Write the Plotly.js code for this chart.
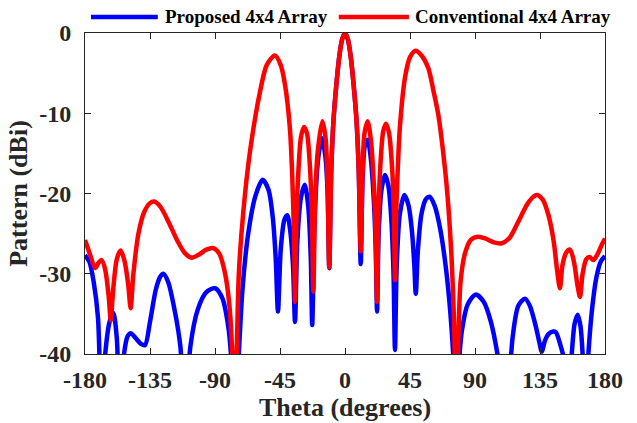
<!DOCTYPE html>
<html>
<head>
<meta charset="utf-8">
<script src="https://cdn.plot.ly/plotly-3.0.1.min.js"></script>
<style>html,body{margin:0;padding:0;background:#fff;}#chart{width:637px;height:423px;}</style>
</head>
<body>
<div id="chart"></div>
<script>
// Conventional 4x4 Array (red)
const convTheta = [-180,-176.5,-173,-170.5,-168.5,-166,-163.5,-162.2,-160.5,-158,-155.3,-152.5,-150,-148.4,-146.5,-143,-139,-135,-132.2,-128,-122,-116,-111,-106.1,-101,-96,-91.2,-87,-83,-80,-77.5,-76.5,-75,-73.5,-70.4,-65.8,-58.8,-54.2,-48.5,-44.5,-41.5,-38.1,-36.5,-35.2,-34.6,-33.7,-32.2,-30.5,-28.4,-26.3,-24.5,-23,-21.9,-20.7,-19,-15.7,-13.5,-12.2,-10.9,-9.5,-8,-6,-4,-2,0,2,4,6,8,9.5,10.9,12.2,13.5,15.7,18,20,21.2,22.2,23.2,25,26.5,28.4,30.5,32.5,33.8,34.6,35.5,37,38.1,41.5,45,49,53,57.7,61,64.6,69.2,71.5,73.8,75.5,77,78.5,80,83,87,92,97,103,108.5,114,120,127,132.7,137,141,144.5,146.8,148.8,150.5,153,155.8,158.5,161,162.7,164.5,167,169.2,172,175,178,180];
const convDb = [-25.8,-27.6,-29.3,-28.6,-28.3,-29.5,-33,-35.8,-32,-28.2,-27.1,-28.5,-31.5,-34.3,-30,-25,-22.3,-21.2,-21.0,-21.6,-23.6,-25.9,-27.4,-28.0,-27.6,-27.0,-26.8,-27.5,-30,-34,-42,-48,-40,-30,-22.3,-14.8,-7.3,-4.0,-2.8,-4.0,-6.5,-12,-18,-26,-33.5,-24,-17,-13,-11.7,-12.5,-16,-22,-32.2,-21,-15,-11.0,-13,-18,-29.2,-17,-11,-6.5,-3,-0.8,0,-0.8,-3,-6.5,-11,-17,-27.2,-17,-12.5,-11.0,-13.5,-19,-25,-33.5,-22,-15,-12.2,-11.3,-12.5,-16.5,-22,-30.8,-22,-15,-11.5,-5.6,-3.0,-2.2,-2.8,-4.4,-7,-10.2,-16.9,-21.5,-28.1,-36,-48,-38,-31,-27.5,-25.8,-25.4,-25.6,-26.1,-26.2,-25.5,-23.5,-21.1,-20.2,-20.8,-22.8,-26,-29.5,-31.8,-29,-27.4,-27.0,-28.5,-31.5,-32.9,-30,-28.2,-27.9,-28.3,-27.5,-26.3,-25.6];

// Proposed 4x4 Array (blue)
const propTheta = [-180,-177,-174,-171,-168.5,-166,-163,-160.4,-158,-155.8,-153,-150.5,-148.4,-145,-141.5,-138.5,-135,-131,-128,-125.8,-122.5,-118,-114,-110.8,-107,-102,-96,-90,-85,-80.5,-77,-75.5,-73.5,-71,-67,-62,-57,-53,-50,-48,-46.4,-44.5,-42,-40,-38,-36,-34.6,-33,-30.5,-27.9,-25.5,-23.7,-22.7,-21,-18.5,-15.9,-13.5,-12,-10.9,-9.5,-8,-6,-4,-2,0,2,4,6,8,9.5,10.9,12.2,13.8,15.7,17.8,20,21.3,22.2,23.3,25.3,27.7,30,32,33.6,34.6,35.8,38,41.1,44,46.5,48,49,50.5,53,56,58.6,62,66,70,73,75.5,76.8,78.5,81,85,90.5,96,101,106,111.5,116,120,124.6,128,132,134.5,136.2,138.5,141,144,146,149,152,154.6,157,159,161.1,163,164.5,166.2,168.5,171,174,177,180];
const propDb = [-27.7,-28.5,-31,-35.5,-48,-40,-36,-34.9,-38,-48,-40,-37.8,-37.4,-38,-38.7,-38.9,-36,-32,-30.4,-30.0,-31,-34.5,-39,-48,-39,-34.5,-32.3,-31.8,-33,-37,-45,-48,-40,-32,-25,-20.3,-18.3,-19.5,-23,-28,-34.7,-27,-23.3,-22.7,-24.5,-29,-36.0,-26,-20.5,-18.9,-21.5,-28,-36.4,-23,-15.5,-13.1,-15.5,-20,-29.3,-17,-11,-6.5,-3,-0.8,0,-0.8,-3,-6.5,-11,-17,-28.8,-18,-14,-13.3,-15.5,-21,-27,-34.7,-25,-19.5,-17.7,-19,-23,-30,-39.5,-29,-22.5,-20.2,-21.5,-25,-29,-32.5,-27,-22.5,-20.7,-20.4,-21.5,-24.5,-29.5,-35,-42,-48,-42,-37,-33.8,-32.6,-33.5,-36,-40.5,-48,-38,-34,-33.1,-34,-36.5,-38.5,-39.7,-38.3,-37.5,-37.2,-37.3,-38.8,-41,-48,-40,-36.2,-35.1,-36.5,-40,-48,-40,-34.5,-30.5,-28.5,-27.8];

const seriesNames = ['Proposed 4x4 Array', 'Conventional 4x4 Array'];
const seriesColors = ['#0000FF', '#FF0000'];
const xTicks = [-180,-135,-90,-45,0,45,90,135,180];
const yTicks = [-40,-30,-20,-10,0];

const fontFam = 'Liberation Serif, Times New Roman, serif';
const axisColor = '#262626';

const traces = [
  {x: propTheta, y: propDb, name: seriesNames[0], mode: 'lines',
   line: {color: seriesColors[0], width: 4.5, shape: 'spline', smoothing: 0.8}, showlegend: false},
  {x: convTheta, y: convDb, name: seriesNames[1], mode: 'lines',
   line: {color: seriesColors[1], width: 4.5, shape: 'spline', smoothing: 0.8}, showlegend: false}
];

// manual legend (long line samples)
const legY = 1.05;
const legItems = [
  {x0: 0.0115, x1: 0.140, tx: 0.150},
  {x0: 0.488, x1: 0.623, tx: 0.631}
];
const shapes = legItems.map((it, i) => ({type: 'line', xref: 'paper', yref: 'paper',
  x0: it.x0, x1: it.x1, y0: legY, y1: legY, line: {color: seriesColors[i], width: 4.5}}));
const annotations = legItems.map((it, i) => ({xref: 'paper', yref: 'paper', x: it.tx, y: legY,
  xanchor: 'left', yanchor: 'middle', showarrow: false, text: seriesNames[i],
  font: {family: fontFam, size: 19, color: '#000', weight: 'bold'}}));

const layout = {
  width: 637, height: 423,
  margin: {l: 85, r: 32, t: 33, b: 69},
  paper_bgcolor: '#fff', plot_bgcolor: '#fff',
  font: {family: fontFam, size: 24, color: axisColor, weight: 'bold'},
  showlegend: false,
  xaxis: {range: [-180, 180], tickvals: xTicks, ticktext: xTicks.map(String),
    ticks: 'inside', ticklen: 6, tickcolor: axisColor, tickwidth: 1,
    showline: true, linecolor: axisColor, linewidth: 1, mirror: 'ticks',
    showgrid: false, zeroline: false, ticklabelstandoff: 4,
    tickfont: {family: fontFam, size: 24, color: axisColor, weight: 'bold'},
    title: {text: 'Theta (degrees)', standoff: 2, font: {family: fontFam, size: 26, color: axisColor, weight: 'bold'}}},
  yaxis: {range: [-40, 0], tickvals: yTicks, ticktext: yTicks.map(String),
    ticks: 'inside', ticklen: 6, tickcolor: axisColor, tickwidth: 1,
    showline: true, linecolor: axisColor, linewidth: 1, mirror: 'ticks',
    showgrid: false, zeroline: false, ticklabelstandoff: 8,
    tickfont: {family: fontFam, size: 24, color: axisColor, weight: 'bold'},
    title: {text: 'Pattern (dBi)', standoff: 4, font: {family: fontFam, size: 26, color: axisColor, weight: 'bold'}}},
  shapes: shapes,
  annotations: annotations
};

Plotly.newPlot('chart', traces, layout, {displayModeBar: false, staticPlot: true});
</script>
</body>
</html>
